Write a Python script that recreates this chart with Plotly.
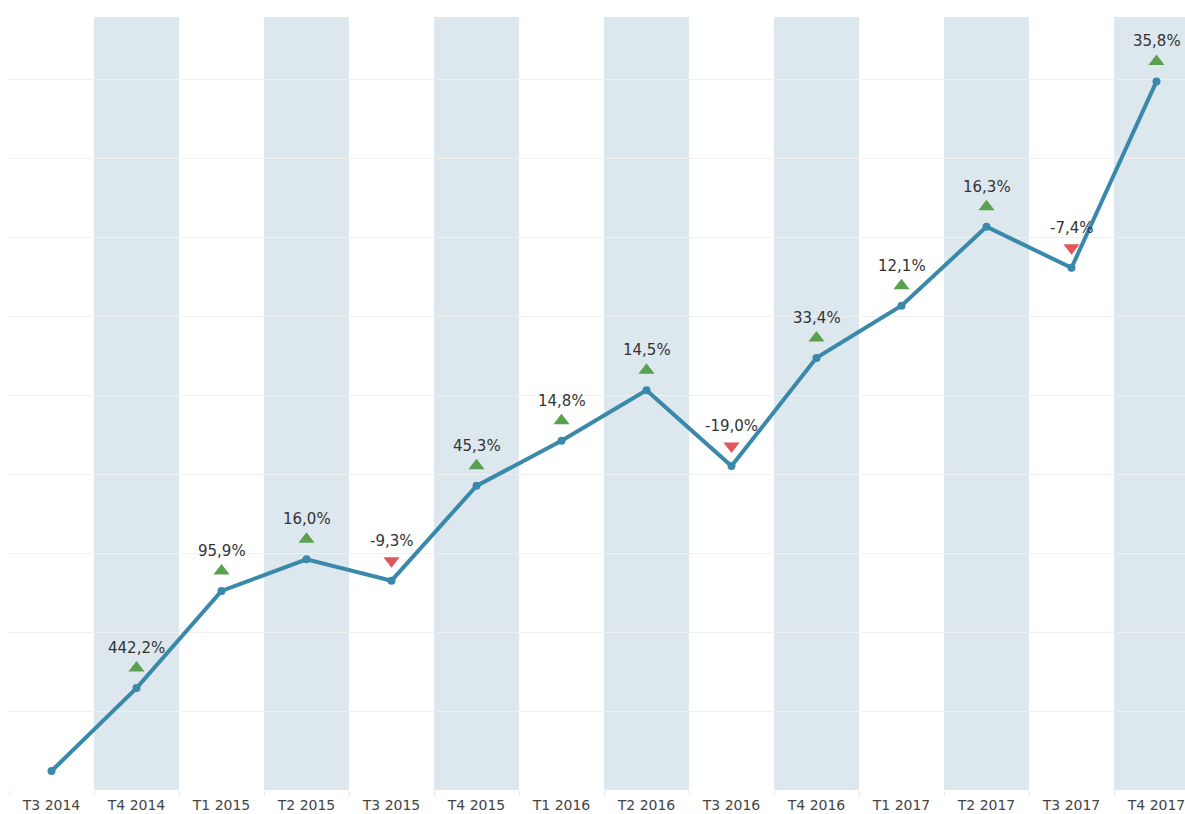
import plotly.graph_objects as go

quarters = ["T3 2014", "T4 2014", "T1 2015", "T2 2015", "T3 2015", "T4 2015",
            "T1 2016", "T2 2016", "T3 2016", "T4 2016", "T1 2017", "T2 2017",
            "T3 2017", "T4 2017"]
values = [24, 129, 252, 292, 265, 385, 442, 506, 410, 547, 613, 713, 661, 897]
growth_labels = ["", "442,2%", "95,9%", "16,0%", "-9,3%", "45,3%", "14,8%", "14,5%",
                 "-19,0%", "33,4%", "12,1%", "16,3%", "-7,4%", "35,8%"]
growth_sign = [0, 1, 1, 1, -1, 1, 1, 1, -1, 1, 1, 1, -1, 1]

W, H = 1185, 814
ML, MR, MT, MB = 9, 0, 17, 24
Y_MAX = 978.5
plot_h = H - MT - MB
upp = Y_MAX / plot_h  # data units per pixel

LINE = "#3a88aa"
GREEN = "#59a14f"
RED = "#e15759"
BAND = "#dde7ee"
FONT = "DejaVu Sans"

xs = list(range(len(quarters)))

fig = go.Figure()

fig.add_trace(go.Scatter(
    x=xs, y=values, mode="lines+markers",
    line=dict(color=LINE, width=4), marker=dict(color=LINE, size=8),
    hoverinfo="skip", showlegend=False))

up_x = [i for i, s in enumerate(growth_sign) if s > 0]
dn_x = [i for i, s in enumerate(growth_sign) if s < 0]
fig.add_trace(go.Scatter(
    x=up_x, y=[values[i] + 20 * upp for i in up_x], mode="markers",
    marker=dict(symbol="triangle-up", color=GREEN, size=14, line=dict(width=0)),
    hoverinfo="skip", showlegend=False))
fig.add_trace(go.Scatter(
    x=dn_x, y=[values[i] + 20 * upp for i in dn_x], mode="markers",
    marker=dict(symbol="triangle-down", color=RED, size=14, line=dict(width=0)),
    hoverinfo="skip", showlegend=False))

for i, lab in enumerate(growth_labels):
    if lab:
        fig.add_annotation(x=i, y=values[i], text=lab, showarrow=False,
                           yshift=40, yanchor="middle",
                           font=dict(size=15, color="#333333", family=FONT))

for i in range(1, len(quarters), 2):
    fig.add_shape(type="rect", xref="x", yref="paper", x0=i - 0.5, x1=i + 0.5,
                  y0=0, y1=1, fillcolor=BAND, line=dict(width=0), layer="below")

x_right = -0.5 + (W - ML - MR) / 85.0

fig.update_layout(
    width=W, height=H,
    margin=dict(l=ML, r=MR, t=MT, b=MB, autoexpand=False),
    paper_bgcolor="white", plot_bgcolor="white",
    font=dict(family=FONT, size=14, color="#444444"),
    xaxis=dict(type="linear", range=[-0.5, x_right], tickmode="array",
               tickvals=xs, ticktext=quarters, ticks="",
               ticklabelstandoff=5, ticklabeloverflow="allow",
               minor=dict(tick0=-0.5, dtick=1, ticks="outside", ticklen=5,
                          tickcolor="#e6e6e6", showgrid=False),
               showgrid=False, zeroline=False, automargin=False,
               showline=False, tickfont=dict(size=14, color="#444444", family=FONT),
               fixedrange=True),
    yaxis=dict(range=[0, Y_MAX], dtick=100, showticklabels=False,
               showgrid=True, gridcolor="#f0f0f0", gridwidth=1, automargin=False,
               zeroline=False, showline=False, ticks="", fixedrange=True),
)

fig.write_html("out.html", config={"displayModeBar": False},
               post_script="document.body.style.margin='0';document.body.style.overflow='hidden';")
